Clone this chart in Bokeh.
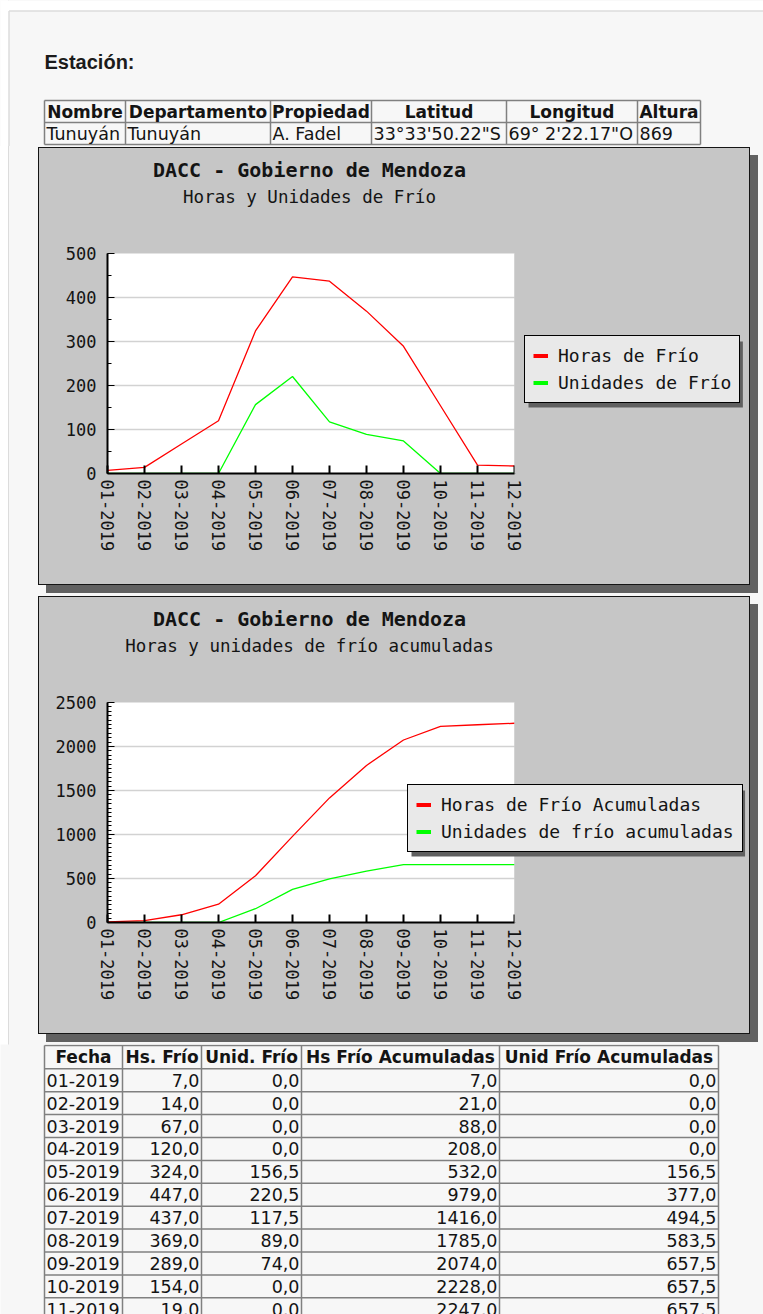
import math
from bokeh.plotting import figure
from bokeh.models import (Range1d, FixedTicker, SingleIntervalTicker, Legend, LegendItem,
                          Title, BoxAnnotation, ColumnDataSource)
from bokeh.layouts import column
from bokeh.core.properties import value
from bokeh.embed import file_html
from bokeh.resources import INLINE

# ---------------- data ----------------
months = ["01-2019", "02-2019", "03-2019", "04-2019", "05-2019", "06-2019",
          "07-2019", "08-2019", "09-2019", "10-2019", "11-2019", "12-2019"]
horas_frio = [7.0, 14.0, 67.0, 120.0, 324.0, 447.0, 437.0, 369.0, 289.0, 154.0, 19.0, 17.0]
unidades_frio = [0.0, 0.0, 0.0, 0.0, 156.5, 220.5, 117.5, 89.0, 74.0, 0.0, 0.0, 0.0]
horas_acum = [7.0, 21.0, 88.0, 208.0, 532.0, 979.0, 1416.0, 1785.0, 2074.0, 2228.0, 2247.0, 2264.0]
unid_acum = [0.0, 0.0, 0.0, 0.0, 156.5, 377.0, 494.5, 583.5, 657.5, 657.5, 657.5, 657.5]

station_headers = ["Nombre", "Departamento", "Propiedad", "Latitud", "Longitud", "Altura"]
station_values = ["Tunuyán", "Tunuyán", "A. Fadel", "33°33'50.22\"S", "69° 2'22.17\"O", "869"]
table_headers = ["Fecha", "Hs. Frío", "Unid. Frío", "Hs Frío Acumuladas", "Unid Frío Acumuladas"]

# ---------------- styles ----------------
PAGE = "#f7f7f7"
PANEL = "#c6c6c6"
MONO = "DejaVu Sans Mono"
SANS = "DejaVu Sans"
TXT = "#141414"
GRIDC = "#808080"
RED = "#ff0000"
GREEN = "#00ff00"


def fmt(v):
    return f"{v:.1f}".replace(".", ",")


def canvas(width, height, top, **kw):
    p = figure(width=width, height=height, x_range=Range1d(0, width),
               y_range=Range1d(top + height, top), x_axis_location=None,
               y_axis_location=None, min_border=0, toolbar_location=None,
               output_backend="svg", background_fill_color=PAGE,
               border_fill_color=PAGE, outline_line_color=None,
               frame_align=False, **kw)
    p.grid.visible = False
    return p


def draw_table(p, xedges, yedges, headers, rows, data_align, limit):
    x0s, y0s, x1s, y1s = [], [], [], []
    ybot = min(yedges[-1], limit)
    for x in xedges:
        x0s.append(x); x1s.append(x); y0s.append(yedges[0]); y1s.append(ybot)
    for y in yedges:
        if y <= limit:
            x0s.append(xedges[0]); x1s.append(xedges[-1]); y0s.append(y); y1s.append(y)
    p.segment(x0=x0s, y0=y0s, x1=x1s, y1=y1s, line_color=GRIDC, line_width=1.5)
    hx = [(xedges[i] + xedges[i + 1]) / 2 for i in range(len(headers))]
    hy = [(yedges[0] + yedges[1]) / 2] * len(headers)
    p.text(x=hx, y=hy, text=headers, text_font=value(SANS), text_font_style="bold",
           text_font_size="17px", text_align="center", text_baseline="middle",
           text_color=TXT)
    for r, row in enumerate(rows):
        if r + 2 >= len(yedges) or yedges[r + 1] >= limit:
            break
        cy = (yedges[r + 1] + yedges[r + 2]) / 2
        for c, t in enumerate(row):
            if data_align[c] == "left":
                x, al = xedges[c] + 2, "left"
            else:
                x, al = xedges[c + 1] - 2, "right"
            p.text(x=[x], y=[cy], text=[t], text_font=value(SANS),
                   text_font_size="17.5px", text_align=al, text_baseline="middle",
                   text_color=TXT)


# ---------------- header ----------------
hdr = canvas(763, 146, 0)
hdr.quad(left=0, right=763, top=0, bottom=10.5, fill_color="white", line_color=None)
hdr.quad(left=0, right=8.5, top=0, bottom=146, fill_color="white", line_color=None)
hdr.segment(x0=[8.5, 8.5], y0=[10.5, 10.5], x1=[763, 8.5], y1=[10.5, 146],
            line_color="#dcdcdc", line_width=1.5)
hdr.text(x=[44], y=[61], text=["Estación:"], text_font=value("Liberation Sans"),
         text_font_style="bold", text_font_size="20px", text_baseline="middle",
         text_color="#1b1b1b")
draw_table(hdr, [44, 125, 270, 371, 506, 637, 700], [100, 122, 144],
           station_headers, [station_values], ["left"] * 6, 146)


# ---------------- charts ----------------
FR_L, FR_R, CANVAS_R = 107, 514, 749
TITLE_CX = 309


def chart(top_margin, frame_bottom, ymax, major, nminor, a, b, title, subtitle,
          labels, legend_left):
    n = len(months)
    x_idx = list(range(n))
    x_end = (n - 1) * (CANVAS_R - FR_L) / (FR_R - FR_L)
    p = figure(width=710, height=436, x_range=Range1d(0, x_end),
               y_range=Range1d(0, ymax), output_backend="svg", toolbar_location=None,
               min_border_left=68, min_border_right=0, min_border_top=105,
               min_border_bottom=111, background_fill_color=PANEL,
               border_fill_color=PANEL, outline_line_color=None, title=None,
               frame_align=False, margin=(top_margin, 0, 0, 39),
               styles={"background-color": PANEL,
                       "box-shadow": "0 0 0 1px #151515, 8px 8px 0 1px #616161"})
    # white plotting area (months 01..12), drawn beneath the grid
    p.add_layout(BoxAnnotation(left=-x_end, right=n - 1, top=ymax * 1.2,
                               bottom=-ymax * 0.2, fill_color="white", fill_alpha=1,
                               line_color=None, level="image"))
    # titles (spacer closest to frame, then subtitle, then main), left-aligned
    # with offsets so that they are centred on the plotting area
    sub_w = len(subtitle) * 0.602 * 17.5
    tit_w = len(title) * 0.602 * 20
    p.add_layout(Title(text=" ", text_font_size="1px", standoff=42), "above")
    p.add_layout(Title(text=subtitle, align="left", offset=TITLE_CX - FR_L - sub_w / 2,
                       text_font=MONO, text_font_size="17.5px", text_font_style="normal",
                       text_color=TXT, standoff=4), "above")
    p.add_layout(Title(text=title, align="left", offset=TITLE_CX - FR_L - tit_w / 2,
                       text_font=MONO, text_font_size="20px", text_font_style="bold",
                       text_color=TXT, standoff=2), "above")

    # axes
    xt = FixedTicker(ticks=x_idx, minor_ticks=[])
    p.xaxis.ticker = xt
    p.xaxis.bounds = (0, n - 1)
    p.xgrid.visible = False
    p.xaxis.major_label_overrides = {i: m for i, m in enumerate(months)}
    p.xaxis.major_label_orientation = "vertical"
    p.xaxis.major_tick_in = 8
    p.xaxis.major_tick_out = 0
    p.xaxis.major_tick_line_width = 2
    p.xaxis.major_label_standoff = 6

    yt = SingleIntervalTicker(interval=major, num_minor_ticks=nminor)
    p.yaxis.ticker = yt
    p.ygrid.ticker = FixedTicker(ticks=list(range(major, ymax, major)), minor_ticks=[])
    p.yaxis.major_tick_in = 7
    p.yaxis.major_tick_out = 0
    p.yaxis.minor_tick_in = 4
    p.yaxis.minor_tick_out = 0
    p.yaxis.major_label_standoff = 11
    for ax in (p.xaxis, p.yaxis):
        ax.axis_line_width = 2
        ax.axis_line_color = "black"
        ax.major_tick_line_color = "black"
        ax.minor_tick_line_color = "black"
        ax.major_label_text_font = MONO
        ax.major_label_text_font_size = "17px"
        ax.major_label_text_color = TXT
    p.ygrid.grid_line_color = "#d2d2d2"
    p.ygrid.grid_line_width = 1.5

    src = ColumnDataSource(dict(x=x_idx, a=a, b=b))
    p.line("x", "b", source=src, line_color=GREEN, line_width=1.3)
    p.line("x", "a", source=src, line_color=RED, line_width=1.3)

    # grey panel to the right of the plotting area covers the grid lines there
    p.add_layout(BoxAnnotation(left=n - 1, right=x_end * 1.2, top=ymax * 1.2,
                               bottom=-ymax * 0.2, fill_color=PANEL, fill_alpha=1,
                               line_color=None))

    # legend
    nan = float("nan")
    ra = p.line(x=[nan], y=[nan], line_color=RED, line_width=4)
    rb = p.line(x=[nan], y=[nan], line_color=GREEN, line_width=4)
    lab_w = max(len(s) for s in labels) * 0.602 * 18
    leg_w = 8 + 15 + 10 + lab_w + 8
    leg_h = 66
    leg_bottom = 70
    sx = lambda px: (px - FR_L) / (FR_R - FR_L) * (n - 1)
    sy = lambda py: (frame_bottom - py) / 220 * ymax
    bot_px = frame_bottom - leg_bottom
    p.add_layout(BoxAnnotation(left=sx(legend_left + 4), right=sx(legend_left + leg_w + 4),
                               top=sy(bot_px - leg_h + 4), bottom=sy(bot_px + 4),
                               fill_color="#606060", fill_alpha=1, line_color=None))
    leg = Legend(items=[LegendItem(label=labels[0], renderers=[ra]),
                        LegendItem(label=labels[1], renderers=[rb])],
                 location=(legend_left - FR_L, leg_bottom), orientation="vertical",
                 background_fill_color="#e9e9e9", background_fill_alpha=1,
                 border_line_color="black", border_line_width=1.5, border_line_alpha=1,
                 label_text_font=MONO, label_text_font_size="18px",
                 label_text_color=TXT, glyph_width=15, glyph_height=23,
                 label_height=23, label_standoff=10, padding=8, spacing=4, margin=0)
    p.add_layout(leg, "center")
    return p


ch1 = chart(2, 473, 500, 100, 2, horas_frio, unidades_frio,
            "DACC - Gobierno de Mendoza", "Horas y Unidades de Frío",
            ["Horas de Frío", "Unidades de Frío"], 524)
ch2 = chart(13, 922, 2500, 500, 10, horas_acum, unid_acum,
            "DACC - Gobierno de Mendoza", "Horas y unidades de frío acumuladas",
            ["Horas de Frío Acumuladas", "Unidades de frío acumuladas"], 407)

# ---------------- data table ----------------
tbl = canvas(763, 270, 1044, margin=(11, 0, 0, 0))
row_edges = [1045] + [1068.3 + 22.9 * i for i in range(len(months) + 1)]
rows = [[m, fmt(horas_frio[i]), fmt(unidades_frio[i]), fmt(horas_acum[i]), fmt(unid_acum[i])]
        for i, m in enumerate(months)]
draw_table(tbl, [44, 122, 201, 301, 499, 718], row_edges, table_headers, rows,
           ["left", "right", "right", "right", "right"], 1314)

root = column(hdr, ch1, ch2, tbl, spacing=0,
              styles={"background": "linear-gradient(to right, #ffffff 0px, #ffffff 8px, "
                                    "#dcdcdc 8px, #dcdcdc 9px, #f7f7f7 9px)"})

with open("out.html", "w", encoding="utf-8") as f:
    f.write(file_html(root, INLINE))
